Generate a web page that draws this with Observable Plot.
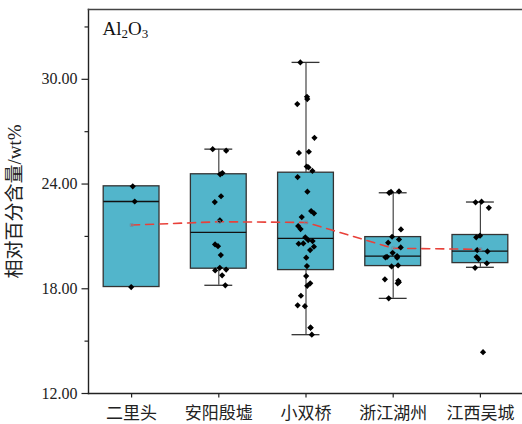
<!DOCTYPE html>
<html>
<head>
<meta charset="utf-8">
<script src="https://cdn.jsdelivr.net/npm/d3@7"></script>
<script src="https://cdn.jsdelivr.net/npm/@observablehq/plot@0.6"></script>
<style>
  html, body { margin: 0; padding: 0; background: white; }
</style>
</head>
<body>
<div id="chart"></div>
<script>
// ---- data ----
const categories = ["二里头", "安阳殷墟", "小双桥", "浙江湖州", "江西吴城"];

const erlitou = [23.87, 23.0, 18.1];
const anyang = [26.0, 25.91, 24.63, 24.56, 23.3, 22.97, 21.92, 20.54, 20.44, 19.93, 19.2, 19.1, 19.05, 18.77, 18.2];
const xiaoshuangqiao = [30.97, 29.0, 28.87, 28.58, 26.65, 25.85, 25.78, 25.0, 24.95, 24.75, 24.4, 23.56, 22.45, 22.32, 22.11,
  21.59, 21.42, 20.95, 20.79, 20.73, 20.6, 20.58, 20.41, 20.22, 19.78, 19.3, 18.73, 18.31, 18.17, 17.6, 17.05, 17.0, 15.77, 15.77, 15.37];
const zhejiang = [23.58, 23.55, 23.5, 21.4, 20.98, 20.83, 20.64, 20.37, 20.06, 19.87, 19.83, 19.8, 19.78, 19.34, 19.28, 18.54, 18.46, 18.38, 18.31, 17.45];
const jiangxi = [22.99, 22.95, 22.64, 21.04, 20.95, 20.22, 20.14, 19.82, 19.7, 19.46, 19.2, 14.37];

const q1 = [18.1, 19.15, 19.07, 19.3, 19.47];
const medians = [23.0, 21.23, 20.89, 19.87, 20.16];
const q3 = [23.87, 24.56, 24.65, 20.96, 21.08];
const whiskerLow = [18.1, 18.2, 15.37, 17.45, 19.23];
const whiskerHigh = [23.87, 26.0, 30.97, 23.5, 22.97];
const means = [21.65, 21.84, 21.8, 20.32, 20.26];

const majorTicks = [12, 18, 24, 30];
const minorTicks = [15, 21, 27, 33];

// ---- build tables ----
const series = [erlitou, anyang, xiaoshuangqiao, zhejiang, jiangxi];
const boxes = categories.map((c, i) => ({
  i, c, q1: q1[i], median: medians[i], q3: q3[i], lo: whiskerLow[i], hi: whiskerHigh[i], mean: means[i]
}));
const jitter = d3.randomUniform.source(d3.randomLcg(0.3172))(-0.1, 0.1);
const points = series.flatMap((vals, i) => vals.map(v => ({i, v, j: jitter()})));

const HALF = 0.32, CAP = 0.16;
const serif = "'Liberation Serif', 'Times New Roman', serif";
const cjk = "'Liberation Serif', 'Noto Sans CJK SC', sans-serif";

const chart = Plot.plot({
  width: 522,
  height: 424,
  marginLeft: 88,
  marginRight: 0,
  marginTop: 9,
  marginBottom: 31,
  style: {fontFamily: serif, fontSize: "16px", color: "#222", background: "white"},
  x: {domain: [-0.5, 4.5], range: [87.5, 523.5]},
  y: {domain: [12, 34]},
  marks: [
    // boxes
    Plot.rect(boxes, {x1: d => d.i - HALF, x2: d => d.i + HALF, y1: "q1", y2: "q3",
      fill: "#52b5cb", stroke: "#333", strokeWidth: 1.3}),
    // whiskers
    Plot.ruleX(boxes, {x: "i", y1: "lo", y2: "q1", stroke: "#444", strokeWidth: 1.2}),
    Plot.ruleX(boxes, {x: "i", y1: "q3", y2: "hi", stroke: "#444", strokeWidth: 1.2}),
    // caps
    Plot.ruleY(boxes.filter(d => d.hi > d.q3), {y: "hi", x1: d => d.i - CAP, x2: d => d.i + CAP, stroke: "#333", strokeWidth: 1.3}),
    Plot.ruleY(boxes.filter(d => d.lo < d.q1), {y: "lo", x1: d => d.i - CAP, x2: d => d.i + CAP, stroke: "#333", strokeWidth: 1.3}),
    // medians
    Plot.ruleY(boxes, {y: "median", x1: d => d.i - HALF, x2: d => d.i + HALF, stroke: "#111", strokeWidth: 1.3}),
    // mean line
    Plot.line(boxes, {x: "i", y: "mean", stroke: "#e8413a", strokeWidth: 1.6, strokeDasharray: "8,6"}),
    // raw points
    Plot.dot(points, {x: d => d.i + d.j, y: "v", symbol: "diamond2", r: 2.8, fill: "#000", stroke: "none"}),
    // mean markers
    Plot.dot(boxes, {x: "i", y: "mean", symbol: "square", r: 1.6, fill: "none", stroke: "#6b8fa3", strokeWidth: 0.8}),
    // axes
    Plot.axisY(majorTicks, {tickSize: 6.5, tickPadding: 4.5, tickFormat: d3.format(".2f"), label: null,
      fontSize: 16, fontFamily: serif, strokeWidth: 1.2}),
    Plot.axisY(minorTicks, {tickSize: 3.5, tickFormat: () => "", label: null, strokeWidth: 1.2}),
    Plot.axisX(d3.range(categories.length), {tickSize: 4.5, tickPadding: 8.5, tickFormat: i => categories[i],
      label: null, fontSize: 17, fontFamily: cjk, strokeWidth: 1.2}),
    Plot.frame({anchor: "left", stroke: "#222", strokeWidth: 1.4}),
    Plot.frame({anchor: "bottom", stroke: "#222", strokeWidth: 1.4}),
    Plot.frame({anchor: "top", stroke: "#444", strokeWidth: 1.6}),
    // y label
    Plot.text(["相对百分含量/wt%"], {frameAnchor: "left", dx: -74, rotate: -90, textAnchor: "middle",
      fontSize: 19, fontFamily: cjk, fill: "#222"}),
    // panel title
    Plot.text(["Al2O3"], {frameAnchor: "top-left", dx: 14, dy: 12, textAnchor: "start", lineAnchor: "top",
      fontSize: 19, fontFamily: serif, fill: "#111"})
  ]
});

// subscripts for the panel title
for (const t of chart.querySelectorAll("text")) {
  if (t.textContent === "Al2O3") {
    t.textContent = "";
    const parts = [["Al", 0], ["2", 1], ["O", 0], ["3", 1]];
    for (const [s, sub] of parts) {
      const ts = document.createElementNS("http://www.w3.org/2000/svg", "tspan");
      ts.textContent = s;
      if (sub) { ts.setAttribute("font-size", "13"); ts.setAttribute("baseline-shift", "-25%"); }
      t.appendChild(ts);
    }
  }
}

document.getElementById("chart").appendChild(chart);
</script>
</body>
</html>
